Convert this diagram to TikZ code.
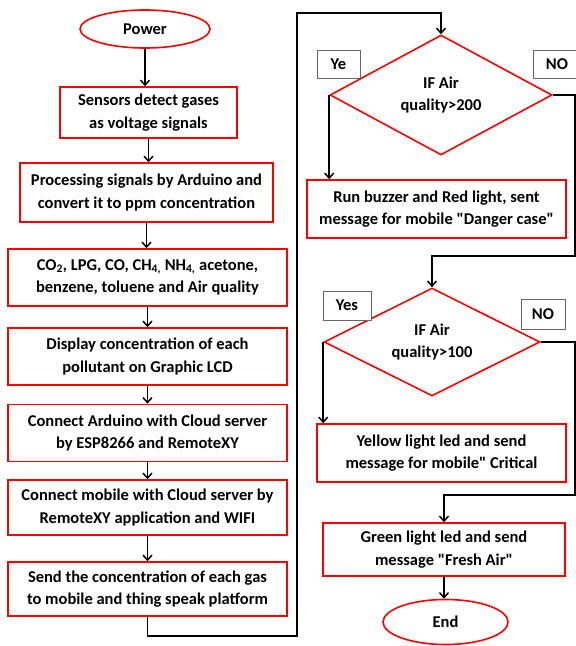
\documentclass[tikz,border=0pt]{standalone}
\usepackage{fontspec}
\setmainfont{Carlito}[Ligatures=TeXOff]
\usetikzlibrary{shapes.geometric,arrows.meta}
\begin{document}
\begin{tikzpicture}[x=1pt,y=-1pt,
  font=\fontsize{16.5}{22.5}\selectfont\bfseries,
  proc/.style={draw=red, line width=1.6pt, fill=white, align=center, inner sep=0pt},
  term/.style={ellipse, draw=red, line width=1.6pt, fill=white, inner sep=0pt},
  dec/.style={diamond, draw=red, line width=1.6pt, fill=white, inner sep=0pt, align=center, aspect=1.85},
  lbl/.style={draw=black!60, line width=0.8pt, fill=white, inner sep=0pt},
  arr/.style={line width=1.5pt, -{Straight Barb[length=5pt,width=9pt]}},
  ln/.style={line width=1.5pt}]
\useasboundingbox (0,0) rectangle (576,646);
% left column
\node[term, minimum width=130pt, minimum height=38pt] (pw) at (145,29) {Power};
\node[proc, minimum width=177pt, minimum height=51pt] (s1) at (148.5,112.5) {Sensors detect gases\\as voltage signals};
\node[proc, minimum width=253pt, minimum height=59pt] (s2) at (146.5,192.5) {Processing signals by Arduino and\\convert it to ppm concentration};
\node[proc, minimum width=279pt, minimum height=57pt] (s3) at (147.5,277.5) {CO\textsubscript{2}, LPG, CO, CH\textsubscript{4,} NH\textsubscript{4,} acetone,\\benzene, toluene and Air quality};
\node[proc, minimum width=279pt, minimum height=57pt] (s4) at (147.5,356.5) {Display concentration of each\\pollutant on Graphic LCD};
\node[proc, minimum width=279pt, minimum height=57pt] (s5) at (147.5,433) {Connect Arduino with Cloud server\\by ESP8266 and RemoteXY};
\node[proc, minimum width=279pt, minimum height=55pt] (s6) at (147.5,507.5) {Connect mobile with Cloud server by\\RemoteXY application and WIFI};
\node[proc, minimum width=279pt, minimum height=54pt] (s7) at (147.5,589) {Send the concentration of each gas\\to mobile and thing speak platform};
% right column
\node[dec, minimum width=222pt, minimum height=120pt] (d1) at (441,95) {IF Air\\quality>200};
\node[lbl, minimum width=43pt, minimum height=28pt] (ye) at (338.5,64) {Ye};
\node[lbl, minimum width=48pt, minimum height=28pt] (no1) at (557,64) {NO};
\node[proc, minimum width=259pt, minimum height=58pt] (r1) at (436.5,209) {Run buzzer and Red light, sent\\message for mobile "Danger case"};
\node[dec, minimum width=216pt, minimum height=108pt] (d2) at (432,342) {IF Air\\quality>100};
\node[lbl, minimum width=48pt, minimum height=29pt] (yes) at (347,305.5) {Yes};
\node[lbl, minimum width=44pt, minimum height=30pt] (no2) at (543,314) {NO};
\node[proc, minimum width=249pt, minimum height=58pt] (y1) at (441.5,453) {Yellow light led and send\\message for mobile" Critical};
\node[proc, minimum width=242pt, minimum height=53pt] (g1) at (444,549.5) {Green light led and send\\message "Fresh Air"};
\node[term, minimum width=125pt, minimum height=45pt] (en) at (445.5,622) {End};
% coordinates
\coordinate (c1) at (297,636);
\coordinate (c2) at (297,13);
\coordinate (k1) at (575,256);
\coordinate (k2) at (575,495);
% connectors
\foreach \a/\b in {pw/s1,s1/s2,s2/s3,s3/s4,s4/s5,s5/s6,s6/s7}
  \draw[arr] (\a.south) -- (\a.south |- \b.north);
\draw[arr] (s7.south) |- (c1) -- (c2) -| (d1.north);
\draw[arr] (d1.west) -- (d1.west |- r1.north);
\draw[arr] (d1.east) -| (k1) -| (d2.north);
\draw[arr] (d2.west) -- (d2.west |- y1.north);
\draw[arr] (d2.east) -| (k2) -| (g1.north);
\draw[arr] (g1.south) -- (g1.south |- en.north);
\end{tikzpicture}
\end{document}
